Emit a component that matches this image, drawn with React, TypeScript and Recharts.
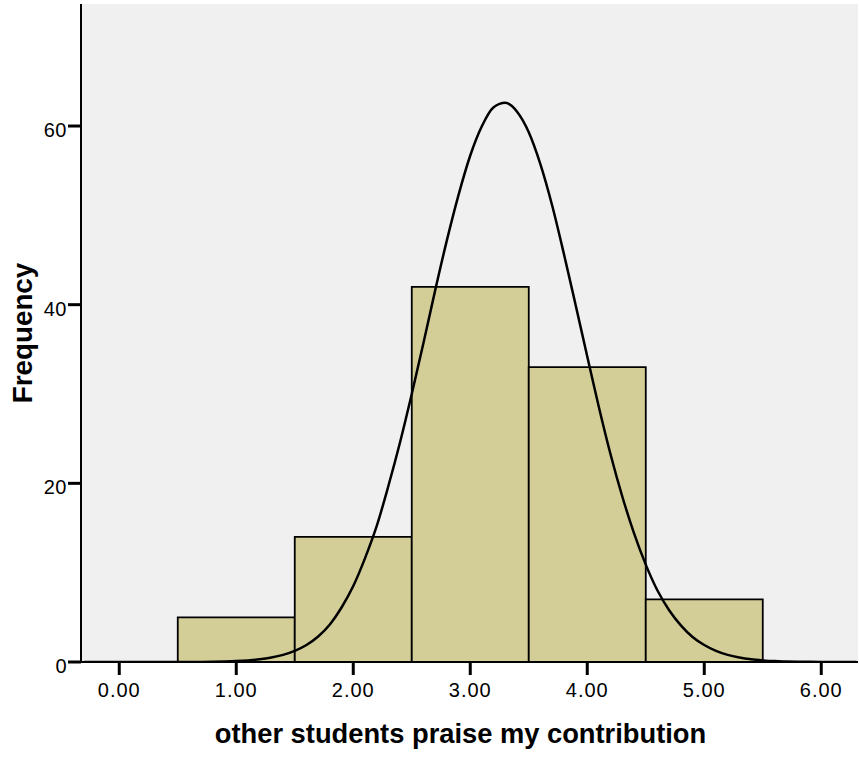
import React from "react";
import {
  ComposedChart,
  Line,
  XAxis,
  YAxis,
  CartesianGrid,
  ReferenceArea,
} from "recharts";

// histogram bins (lower edge, upper edge, count)
const binLow = [0.5, 1.5, 2.5, 3.5, 4.5];
const binHigh = [1.5, 2.5, 3.5, 4.5, 5.5];
const binCount = [5, 14, 42, 33, 7];

// normal curve
const curveX = [
  -0.3, 0.0, 0.3, 0.6, 0.7, 0.8, 0.9, 1.0, 1.1, 1.2, 1.3, 1.4, 1.5, 1.6, 1.7, 1.8,
  1.9, 2.0, 2.1, 2.2, 2.3, 2.4, 2.5, 2.6, 2.7, 2.8, 2.9, 3.0, 3.1, 3.2, 3.3, 3.4,
  3.5, 3.6, 3.7, 3.8, 3.9, 4.0, 4.1, 4.2, 4.3, 4.4, 4.5, 4.6, 4.7, 4.8, 4.9, 5.0,
  5.1, 5.2, 5.3, 5.4, 5.5, 5.6, 5.7, 5.8, 5.9, 6.0, 6.1, 6.3,
];
const curveY = [
  0, 0, 0, 0, 0.01, 0.02, 0.05, 0.1, 0.18, 0.3, 0.5, 0.8, 1.25, 1.9, 2.85, 4.2,
  6.1, 8.5, 11.6, 15.2, 19.7, 24.6, 30.0, 35.7, 41.6, 47.2, 52.3, 56.7, 60.0, 62.1, 62.6, 61.6,
  59.3, 55.7, 51.1, 45.7, 40.0, 34.2, 28.5, 23.2, 18.5, 14.4, 10.9, 8.0, 5.8, 4.1, 2.8, 1.9,
  1.25, 0.8, 0.5, 0.3, 0.18, 0.1, 0.06, 0.03, 0.02, 0.01, 0, 0,
];

const xTicks = [0, 1, 2, 3, 4, 5, 6];
const yTicks = [0, 20, 40, 60];

const X_MIN = -0.327;
const X_MAX = 6.314;
const Y_MAX = 73.66;

const FONT = '"Liberation Sans", Arial, sans-serif';

const curveData = curveX.map((x, i) => ({ x, freq: curveY[i] }));

const XTick = (props: any) => {
  const { x, y, payload } = props;
  return (
    <text
      x={x}
      y={y + 20}
      textAnchor="middle"
      fontSize={20}
      letterSpacing={1}
      fontFamily={FONT}
      fill="#000"
    >
      {payload.value.toFixed(2)}
    </text>
  );
};

const YTick = (props: any) => {
  const { x, y, payload } = props;
  return (
    <text
      x={x}
      y={y + 11}
      textAnchor="end"
      fontSize={20}
      letterSpacing={0.5}
      fontFamily={FONT}
      fill="#000"
    >
      {payload.value}
    </text>
  );
};

export default function App() {
  return (
    <div style={{ width: 859, height: 758 }}>
      <style>{"body{margin:0}"}</style>
      <ComposedChart
        width={859}
        height={758}
        data={curveData}
        margin={{ top: 4, right: 1, left: 0, bottom: 0 }}
      >
        <CartesianGrid fill="#f0f0f0" horizontal={false} vertical={false} />
        <XAxis
          dataKey="x"
          type="number"
          domain={[X_MIN, X_MAX]}
          allowDataOverflow
          ticks={xTicks}
          interval={0}
          tick={<XTick />}
          tickSize={13}
          tickMargin={2}
          tickLine={{ stroke: "#000", strokeWidth: 3 }}
          axisLine={{ stroke: "#000", strokeWidth: 2 }}
          height={96}
          label={{
            content: (p: any) => {
              const vb = p.viewBox;
              return (
                <text
                  x={vb.x + vb.width / 2 - 9}
                  y={vb.y + 81}
                  textAnchor="middle"
                  fontSize={27.3}
                  fontWeight="bold"
                  fontFamily={FONT}
                  fill="#000"
                >
                  other students praise my contribution
                </text>
              );
            },
          }}
        />
        <XAxis
          xAxisId="top"
          orientation="top"
          type="number"
          domain={[X_MIN, X_MAX]}
          height={0}
          tick={false}
          tickLine={false}
          axisLine={{ stroke: "#222", strokeWidth: 2 }}
        />
        <YAxis
          type="number"
          domain={[0, Y_MAX]}
          allowDataOverflow
          ticks={yTicks}
          interval={0}
          tick={<YTick />}
          tickSize={13}
          tickMargin={1}
          tickLine={{ stroke: "#000", strokeWidth: 3 }}
          axisLine={{ stroke: "#000", strokeWidth: 2 }}
          width={81}
          label={{
            content: (p: any) => {
              const vb = p.viewBox;
              const cx = vb.x + 32;
              const cy = vb.y + vb.height / 2;
              return (
                <text
                  x={cx}
                  y={cy}
                  transform={`rotate(-90 ${cx} ${cy})`}
                  textAnchor="middle"
                  fontSize={27.8}
                  fontWeight="bold"
                  fontFamily={FONT}
                  fill="#000"
                >
                  Frequency
                </text>
              );
            },
          }}
        />
        <YAxis
          yAxisId="right"
          orientation="right"
          type="number"
          domain={[0, Y_MAX]}
          width={0}
          tick={false}
          tickLine={false}
          axisLine={{ stroke: "#aaa", strokeWidth: 1 }}
        />
        {binCount.map((c, i) => (
          <ReferenceArea
            key={i}
            x1={binLow[i]}
            x2={binHigh[i]}
            y1={0}
            y2={c}
            fill="#d3ce97"
            fillOpacity={1}
            stroke="#000"
            strokeWidth={1.8}
          />
        ))}
        <Line
          dataKey="freq"
          type="monotone"
          stroke="#000"
          strokeWidth={2.5}
          dot={false}
          activeDot={false}
          isAnimationActive={false}
        />
      </ComposedChart>
    </div>
  );
}
